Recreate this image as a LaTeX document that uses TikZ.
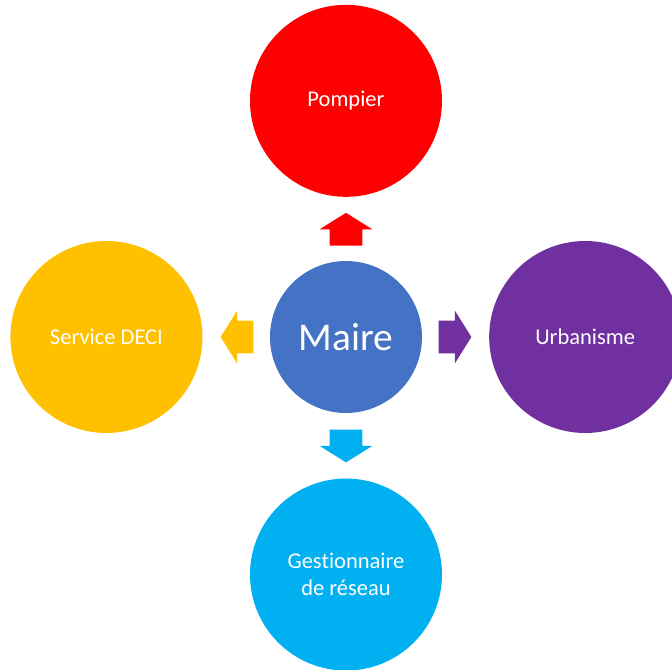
\documentclass[tikz,border=0pt]{standalone}
\usepackage{fontspec}
\setmainfont{Carlito}[Ligatures=NoCommon]
\usetikzlibrary{positioning,shapes.arrows,calc}
\definecolor{maireblue}{HTML}{4472C4}
\definecolor{pompierred}{HTML}{FF0000}
\definecolor{urbaviolet}{HTML}{7030A0}
\definecolor{deciyellow}{HTML}{FFC000}
\definecolor{reseaucyan}{HTML}{00B0F0}

\begin{document}
\begin{tikzpicture}
\tikzset{bubble/.style={circle, minimum size=4.8cm, inner sep=0pt, text=white, align=center, font=\fontsize{16}{19.5}\selectfont},
  fleche/.style={single arrow, anchor=tail, minimum height=0.82cm, inner xsep=0pt, inner ysep=0.4cm, single arrow head extend=0.25cm, single arrow tip angle=116}}
\useasboundingbox (-8.65,-8.325) rectangle (8.15,8.425);

\node[bubble, fill=maireblue, minimum size=3.8cm, font=\fontsize{28}{34}\selectfont] (maire) {Maire};
\node[bubble, fill=pompierred, above=1.59cm of maire] (pompier) {Pompier};
\node[bubble, fill=urbaviolet, right=1.665cm of maire] (urba) {Urbanisme};
\node[bubble, fill=deciyellow, left=1.675cm of maire] (deci) {Service DECI};
\node[bubble, fill=reseaucyan, below=1.625cm of maire] (reseau) {Gestionnaire\\de réseau};

% fleches du maire vers les acteurs
\node[fleche, fill=pompierred, rotate=90] (fpompier) at ($(maire.north)+(0,0.37)$) {};
\node[fleche, fill=urbaviolet] (furba) at ($(maire.east)+(0.4,0)$) {};
\node[fleche, fill=deciyellow, rotate=180] (fdeci) at ($(maire.west)+(-0.4,0)$) {};
\node[fleche, fill=reseaucyan, rotate=-90] (freseau) at ($(maire.south)+(0,-0.4)$) {};
\end{tikzpicture}
\end{document}
